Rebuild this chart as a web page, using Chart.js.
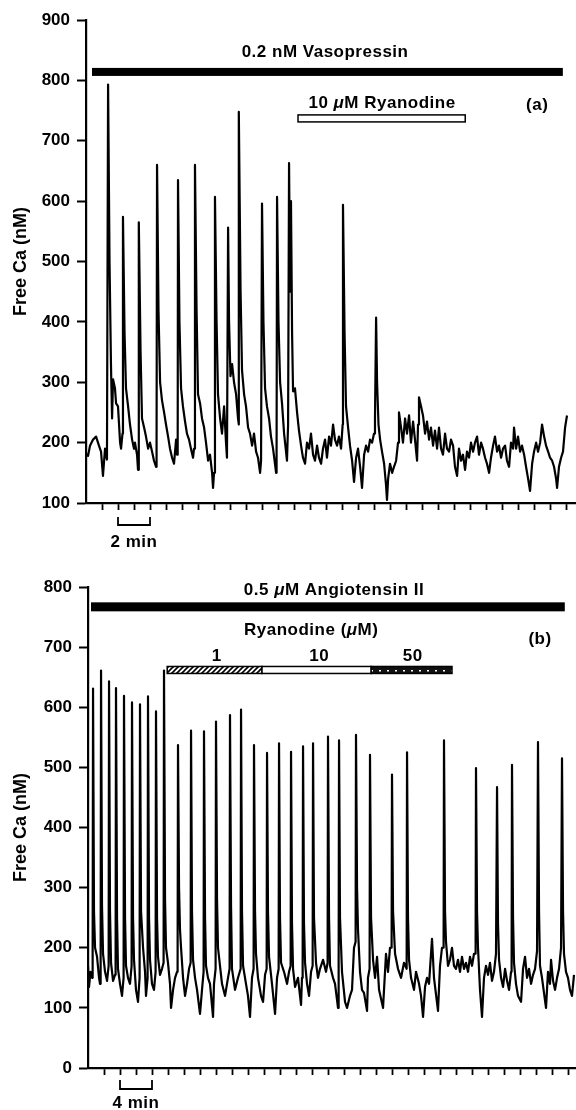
<!DOCTYPE html>
<html>
<head>
<meta charset="utf-8">
<script src="https://cdn.jsdelivr.net/npm/chart.js@4.4.1/dist/chart.umd.min.js"></script>
<style>
  html, body { margin: 0; padding: 0; background: #fff; }
  .panel { width: 576px; height: 555px; position: relative; }
</style>
</head>
<body>
<div class="panel"><canvas id="plotA" width="576" height="555"></canvas></div>
<div class="panel"><canvas id="plotB" width="576" height="555"></canvas></div>
<script>
// (a) 0.2 nM vasopressin, time in min, free Ca in nM
const timeA = [
  0.00, 0.13, 0.25, 0.44, 0.63, 0.81, 0.94, 1.06, 1.19, 1.31, 1.38, 1.47, 1.56, 1.63, 1.69, 1.81, 1.88, 2.00, 2.13, 2.19,
  2.28, 2.31, 2.41, 2.50, 2.63, 2.75, 2.88, 3.00, 3.06, 3.19, 3.25, 3.29, 3.31, 3.41, 3.50, 3.63, 3.75, 3.88, 4.00, 4.13,
  4.25, 4.38, 4.41, 4.44, 4.53, 4.63, 4.75, 4.88, 5.00, 5.13, 5.25, 5.38, 5.50, 5.63, 5.69, 5.73, 5.75, 5.84, 5.94, 6.06,
  6.19, 6.31, 6.44, 6.56, 6.69, 6.75, 6.81, 6.91, 7.00, 7.13, 7.25, 7.38, 7.50, 7.63, 7.75, 7.88, 7.94, 8.00, 8.06, 8.16,
  8.25, 8.38, 8.50, 8.63, 8.75, 8.81, 8.88, 8.94, 9.03, 9.13, 9.25, 9.38, 9.50, 9.54, 9.56, 9.66, 9.75, 9.88, 10.00, 10.13,
  10.25, 10.38, 10.50, 10.63, 10.75, 10.88, 10.94, 11.00, 11.09, 11.19, 11.31, 11.44, 11.56, 11.69, 11.81, 11.88, 11.91, 11.94, 12.03, 12.13,
  12.25, 12.38, 12.50, 12.56, 12.63, 12.69, 12.75, 12.81, 12.88, 12.94, 13.06, 13.19, 13.31, 13.44, 13.56, 13.69, 13.81, 13.94, 14.06, 14.19,
  14.31, 14.44, 14.56, 14.69, 14.81, 14.94, 15.06, 15.19, 15.31, 15.44, 15.56, 15.69, 15.81, 15.94, 16.04, 16.06, 16.16, 16.25, 16.38, 16.50,
  16.63, 16.75, 16.88, 17.00, 17.13, 17.25, 17.38, 17.50, 17.63, 17.75, 17.88, 18.00, 18.06, 18.13, 18.19, 18.28, 18.38, 18.50, 18.63, 18.75,
  18.81, 18.88, 19.00, 19.13, 19.25, 19.38, 19.50, 19.56, 19.69, 19.81, 19.94, 20.06, 20.19, 20.31, 20.44, 20.56, 20.69, 20.75, 20.81, 20.94,
  21.06, 21.19, 21.31, 21.44, 21.56, 21.69, 21.81, 21.94, 22.06, 22.19, 22.31, 22.44, 22.56, 22.69, 22.81, 22.94, 23.06, 23.19, 23.31, 23.44,
  23.56, 23.69, 23.81, 23.94, 24.06, 24.19, 24.31, 24.44, 24.56, 24.69, 24.81, 24.94, 25.06, 25.19, 25.31, 25.44, 25.56, 25.69, 25.81, 25.94,
  26.06, 26.19, 26.31, 26.44, 26.56, 26.69, 26.75, 26.88, 27.00, 27.13, 27.25, 27.38, 27.50, 27.63, 27.75, 27.88, 28.00, 28.13, 28.25, 28.38,
  28.50, 28.63, 28.75, 28.88, 29.00, 29.13, 29.25, 29.38, 29.44, 29.56, 29.69, 29.81, 29.94, 30.06
];
const caA = [
  182, 178, 195, 205, 210, 195, 185, 145, 190, 172, 793, 500, 330, 240, 305, 290, 265, 260, 200, 190,
  215, 574, 380, 290, 260, 230, 205, 190, 200, 180, 155, 190, 565, 350, 240, 225, 210, 190, 200, 185,
  170, 160, 200, 660, 420, 300, 270, 250, 230, 210, 190, 175, 165, 205, 180, 190, 635, 400, 290, 260,
  235, 215, 205, 190, 175, 190, 660, 420, 280, 265, 240, 225, 200, 170, 180, 150, 125, 150, 607, 400,
  280, 240, 215, 260, 200, 175, 556, 400, 310, 330, 300, 280, 240, 230, 748, 450, 320, 280, 260, 225,
  215, 195, 215, 185, 175, 150, 170, 596, 400, 290, 260, 240, 210, 190, 165, 150, 180, 607, 400, 300,
  265, 215, 185, 170, 230, 663, 450, 600, 380, 285, 290, 250, 220, 195, 175, 165, 200, 190, 215, 180,
  170, 195, 175, 165, 190, 205, 175, 210, 195, 230, 205, 195, 210, 190, 230, 594, 380, 260, 225, 195,
  170, 135, 175, 190, 160, 125, 180, 195, 185, 205, 200, 215, 240, 407, 300, 230, 205, 185, 165, 130,
  105, 140, 165, 150, 160, 170, 200, 250, 225, 200, 240, 215, 245, 200, 235, 205, 170, 230, 275, 260,
  245, 215, 235, 205, 225, 195, 220, 190, 225, 190, 180, 215, 190, 185, 205, 195, 160, 145, 190, 170,
  180, 155, 185, 175, 200, 185, 200, 210, 180, 200, 190, 175, 165, 150, 175, 195, 210, 185, 195, 175,
  190, 195, 170, 160, 200, 190, 225, 190, 210, 185, 195, 180, 160, 140, 120, 165, 185, 200, 185, 200,
  230, 210, 195, 185, 175, 170, 160, 140, 125, 160, 175, 185, 225, 245
];
const caTicksA = [100, 200, 300, 400, 500, 600, 700, 800, 900];
const minTicksA = [1, 2, 3, 4, 5, 6, 7, 8, 9, 10, 11, 12, 13, 14, 15, 16, 17, 18, 19, 20, 21, 22, 23, 24, 25, 26, 27, 28, 29, 30];

// (b) 0.5 uM angiotensin II
const timeB = [
  0.00, 0.13, 0.31, 0.50, 0.58, 0.63, 0.75, 0.88, 1.13, 1.38, 1.50, 1.58, 1.63, 1.75, 1.88, 2.13, 2.38, 2.58, 2.63, 2.75,
  2.88, 3.13, 3.38, 3.45, 3.50, 3.63, 3.75, 4.00, 4.25, 4.45, 4.50, 4.63, 4.75, 5.00, 5.25, 5.45, 5.50, 5.63, 5.75, 6.00,
  6.25, 6.45, 6.50, 6.63, 6.88, 7.13, 7.25, 7.45, 7.50, 7.63, 7.75, 8.00, 8.25, 8.45, 8.50, 8.63, 8.75, 9.00, 9.25, 9.45,
  9.50, 9.63, 9.75, 10.00, 10.25, 10.38, 10.63, 10.88, 11.13, 11.20, 11.25, 11.38, 11.50, 11.63, 11.88, 12.13, 12.38, 12.63, 12.83, 12.88,
  13.00, 13.13, 13.38, 13.63, 14.00, 14.25, 14.45, 14.50, 14.63, 14.75, 15.00, 15.25, 15.63, 15.75, 15.95, 16.00, 16.13, 16.25, 16.50, 16.75,
  17.13, 17.50, 17.70, 17.75, 17.88, 18.00, 18.38, 18.75, 19.08, 19.13, 19.25, 19.38, 19.75, 20.00, 20.25, 20.50, 20.70, 20.75, 20.88, 21.00,
  21.25, 21.63, 21.88, 22.13, 22.33, 22.38, 22.50, 22.63, 23.00, 23.38, 23.63, 23.83, 23.88, 24.00, 24.13, 24.50, 24.88, 25.13, 25.33, 25.38,
  25.50, 25.63, 25.88, 26.25, 26.63, 26.75, 26.83, 26.88, 27.00, 27.13, 27.38, 27.63, 27.88, 28.08, 28.13, 28.25, 28.50, 28.75, 29.00, 29.38,
  29.75, 29.95, 30.00, 30.13, 30.25, 30.63, 30.88, 31.25, 31.33, 31.38, 31.50, 31.75, 32.13, 32.38, 32.75, 33.00, 33.25, 33.45, 33.50, 33.63,
  33.75, 34.00, 34.25, 34.50, 34.88, 35.00, 35.20, 35.25, 35.38, 35.63, 35.88, 36.13, 36.38, 36.88, 37.25, 37.50, 37.75, 37.95, 38.00, 38.13,
  38.38, 38.75, 39.13, 39.50, 39.83, 39.88, 40.00, 40.13, 40.38, 40.75, 41.00, 41.38, 41.63, 41.88, 42.13, 42.38, 42.63, 43.00, 43.25, 43.75,
  44.00, 44.25, 44.45, 44.50, 44.63, 44.75, 45.00, 45.25, 45.50, 45.75, 46.00, 46.25, 46.50, 46.75, 47.00, 47.25, 47.50, 47.75, 48.00, 48.25,
  48.45, 48.50, 48.63, 48.75, 49.00, 49.25, 49.50, 49.75, 50.00, 50.25, 50.50, 50.75, 51.00, 51.08, 51.13, 51.25, 51.38, 51.63, 51.88, 52.13,
  52.38, 52.63, 52.88, 52.95, 53.00, 53.13, 53.25, 53.50, 53.75, 54.13, 54.38, 54.63, 54.88, 55.13, 55.38, 55.63, 55.88, 56.13, 56.20, 56.25,
  56.38, 56.50, 56.75, 57.00, 57.25, 57.50, 57.75, 57.88, 58.13, 58.38, 58.63, 58.88, 59.13, 59.20, 59.25, 59.38, 59.50, 59.75, 60.00, 60.25,
  60.50, 60.75
];
const caB = [
  170, 135, 160, 150, 190, 631, 260, 200, 185, 150, 140, 180, 661, 270, 190, 160, 145, 170, 643, 260,
  175, 145, 155, 175, 632, 250, 165, 140, 120, 150, 619, 250, 170, 150, 140, 170, 608, 250, 180, 130,
  110, 150, 605, 260, 200, 160, 120, 150, 618, 250, 180, 140, 130, 160, 593, 250, 185, 155, 165, 175,
  661, 280, 200, 175, 140, 100, 130, 150, 160, 175, 537, 300, 230, 200, 150, 120, 140, 165, 175, 561,
  260, 180, 150, 130, 90, 130, 160, 560, 250, 170, 150, 140, 85, 140, 165, 576, 280, 200, 170, 140,
  120, 150, 165, 587, 270, 165, 130, 150, 165, 596, 260, 170, 140, 120, 85, 150, 165, 537, 260, 190,
  150, 120, 110, 155, 165, 524, 260, 185, 140, 90, 150, 165, 540, 250, 175, 160, 140, 160, 170, 526,
  240, 165, 135, 150, 105, 150, 165, 535, 240, 175, 140, 120, 160, 170, 540, 250, 175, 150, 165, 180,
  160, 175, 551, 250, 170, 150, 140, 100, 170, 545, 250, 160, 110, 100, 120, 130, 200, 210, 554, 300,
  230, 160, 130, 125, 95, 150, 165, 521, 250, 180, 150, 185, 130, 100, 190, 160, 200, 200, 488, 260,
  190, 165, 150, 175, 165, 525, 250, 180, 150, 130, 160, 140, 120, 85, 135, 150, 140, 215, 150, 95,
  170, 200, 200, 545, 260, 210, 170, 180, 200, 170, 165, 180, 160, 185, 165, 175, 160, 185, 170, 190,
  190, 499, 260, 200, 130, 85, 150, 170, 155, 175, 145, 160, 190, 190, 467, 240, 180, 150, 135, 165,
  145, 130, 160, 170, 504, 250, 175, 140, 120, 110, 165, 185, 150, 165, 140, 155, 165, 195, 195, 542,
  260, 170, 150, 125, 100, 160, 140, 180, 145, 130, 150, 165, 200, 200, 515, 260, 190, 160, 150, 130,
  120, 155
];
const caTicksB = [0, 100, 200, 300, 400, 500, 600, 700, 800];
const minTicksB = [2, 4, 6, 8, 10, 12, 14, 16, 18, 20, 22, 24, 26, 28, 30, 32, 34, 36, 38, 40, 42, 44, 46, 48, 50, 52, 54, 56, 58, 60];

// treatment bars and labels, in data units (min, nM)
const notesA = {
  bars: [
    { from: 0.375, to: 29.8, at: 814, h: 8, fill: 'solid' },
    { from: 13.25, to: 23.7, at: 737, h: 7, fill: 'open' }
  ],
  texts: [
    { x: 14.94, y: 839, parts: [['0.2 nM Vasopressin']] },
    { x: 18.5, y: 754, parts: [['10 '], ['μ', 'italic bold'], ['M Ryanodine']] },
    { x: 28.2, y: 751, parts: [['(a)']] }
  ],
  scaleBar: { from: 2, to: 4, top: 14, bottom: 22, textY: 44, label: '2 min' }
};
const notesB = {
  bars: [
    { from: 0.375, to: 59.6, at: 767, h: 9, fill: 'solid' },
    { from: 9.9, to: 21.75, at: 662, h: 7, fill: 'hatch' },
    { from: 21.75, to: 35.4, at: 662, h: 7, fill: 'open' },
    { from: 35.4, to: 45.5, at: 662, h: 7, fill: 'dots' }
  ],
  texts: [
    { x: 30.75, y: 787, parts: [['0.5 '], ['μ', 'italic bold'], ['M Angiotensin II']] },
    { x: 27.9, y: 720, parts: [['Ryanodine ('], ['μ', 'italic bold'], ['M)']] },
    { x: 16.1, y: 677, parts: [['1']] },
    { x: 28.9, y: 677, parts: [['10']] },
    { x: 40.6, y: 677, parts: [['50']] },
    { x: 56.5, y: 705, parts: [['(b)']] }
  ],
  scaleBar: { from: 4, to: 8, top: 12, bottom: 21, textY: 40, label: '4 min' }
};

const FONT = '"Liberation Sans", Arial, Helvetica, sans-serif';

function makePattern(ctx, kind) {
  const c = document.createElement('canvas');
  const g = c.getContext('2d');
  if (kind === 'hatch') {
    c.width = 5; c.height = 5;
    g.fillStyle = '#fff'; g.fillRect(0, 0, 5, 5);
    g.strokeStyle = '#000'; g.lineWidth = 1.6;
    g.beginPath();
    g.moveTo(-1, 6); g.lineTo(6, -1);
    g.moveTo(-1, 1); g.lineTo(1, -1);
    g.moveTo(4, 6); g.lineTo(6, 4);
    g.stroke();
  } else {
    c.width = 8; c.height = 7;
    g.fillStyle = '#111'; g.fillRect(0, 0, 8, 7);
    g.fillStyle = '#fff'; g.fillRect(3, 3, 2, 1.5);
  }
  return ctx.createPattern(c, 'repeat');
}

const notesPlugin = {
  id: 'notes',
  afterDraw(chart, args, opts) {
    const { ctx, chartArea } = chart;
    const xs = chart.scales.x, ys = chart.scales.y;
    ctx.save();
    opts.bars.forEach(b => {
      const x1 = xs.getPixelForValue(b.from), x2 = xs.getPixelForValue(b.to);
      const yc = ys.getPixelForValue(b.at);
      const y1 = yc - b.h / 2;
      if (b.fill === 'solid') {
        ctx.fillStyle = '#000';
        ctx.fillRect(x1, y1, x2 - x1, b.h);
        return;
      }
      ctx.fillStyle = b.fill === 'open' ? '#fff' : makePattern(ctx, b.fill);
      ctx.fillRect(x1, y1, x2 - x1, b.h);
      ctx.strokeStyle = '#000';
      ctx.lineWidth = 1.5;
      ctx.strokeRect(x1, y1, x2 - x1, b.h);
    });

    ctx.fillStyle = '#000';
    ctx.textAlign = 'left';
    ctx.textBaseline = 'alphabetic';
    ctx.letterSpacing = '0.5px';
    opts.texts.forEach(t => {
      let w = 0;
      t.parts.forEach(p => { ctx.font = (p[1] || 'bold') + ' 17px ' + FONT; w += ctx.measureText(p[0]).width; });
      let cx = xs.getPixelForValue(t.x) - w / 2;
      const cy = ys.getPixelForValue(t.y);
      t.parts.forEach(p => {
        ctx.font = (p[1] || 'bold') + ' 17px ' + FONT;
        ctx.fillText(p[0], cx, cy);
        cx += ctx.measureText(p[0]).width;
      });
    });

    // time scale bar under the axis
    const s = opts.scaleBar;
    const sx1 = xs.getPixelForValue(s.from), sx2 = xs.getPixelForValue(s.to);
    const b0 = chartArea.bottom;
    ctx.strokeStyle = '#000';
    ctx.lineWidth = 1.8;
    ctx.beginPath();
    ctx.moveTo(sx1, b0 + s.top);
    ctx.lineTo(sx1, b0 + s.bottom);
    ctx.lineTo(sx2, b0 + s.bottom);
    ctx.lineTo(sx2, b0 + s.top);
    ctx.stroke();
    ctx.font = 'bold 17px ' + FONT;
    ctx.textAlign = 'center';
    ctx.fillText(s.label, (sx1 + sx2) / 2, b0 + s.textY);
    ctx.restore();
  }
};

function makeChart(id, times, values, cfg) {
  return new Chart(document.getElementById(id), {
    type: 'line',
    data: {
      datasets: [{
        data: times.map((t, i) => ({ x: t, y: values[i] })),
        borderColor: '#000',
        borderWidth: 2.2,
        borderJoinStyle: 'round',
        pointRadius: 0,
        tension: 0,
        fill: false
      }]
    },
    options: {
      responsive: false,
      animation: false,
      devicePixelRatio: 1,
      layout: { padding: { top: cfg.padTop, right: cfg.padRight, left: 0, bottom: 0 } },
      plugins: { legend: { display: false }, tooltip: { enabled: false }, notes: cfg.notes },
      scales: {
        x: {
          type: 'linear',
          min: 0,
          max: cfg.xMax,
          afterBuildTicks: s => { s.ticks = cfg.xTicks.map(v => ({ value: v })); },
          ticks: { display: false },
          grid: { drawOnChartArea: false, tickLength: 7, tickWidth: 1.8, tickColor: '#000' },
          border: { color: '#000', width: 2.2 },
          afterFit: s => { s.height = cfg.xHeight; s.paddingLeft = 0; s.paddingRight = 0; }
        },
        y: {
          min: cfg.yTicks[0],
          max: cfg.yTicks[cfg.yTicks.length - 1],
          afterBuildTicks: s => { s.ticks = cfg.yTicks.map(v => ({ value: v })); },
          ticks: { color: '#000', padding: 7, font: { family: FONT, size: 17, weight: 'bold' } },
          grid: { drawOnChartArea: false, tickLength: 9, tickWidth: 2, tickColor: '#000' },
          border: { color: '#000', width: 2.2 },
          title: {
            display: true,
            text: 'Free Ca (nM)',
            color: '#000',
            font: { family: FONT, size: 18, weight: 'bold' },
            padding: { top: 10, bottom: 0 }
          },
          afterFit: s => { s.width = cfg.yWidth; s.paddingTop = 0; s.paddingBottom = 0; }
        }
      }
    },
    plugins: [notesPlugin]
  });
}

makeChart('plotA', timeA, caA, {
  padTop: 20, padRight: 1, xMax: 30.56, xHeight: 52, yWidth: 86,
  xTicks: minTicksA, yTicks: caTicksA, notes: notesA
});
makeChart('plotB', timeB, caB, {
  padTop: 32, padRight: 0, xMax: 61, xHeight: 42, yWidth: 88,
  xTicks: minTicksB, yTicks: caTicksB, notes: notesB
});
</script>
</body>
</html>
